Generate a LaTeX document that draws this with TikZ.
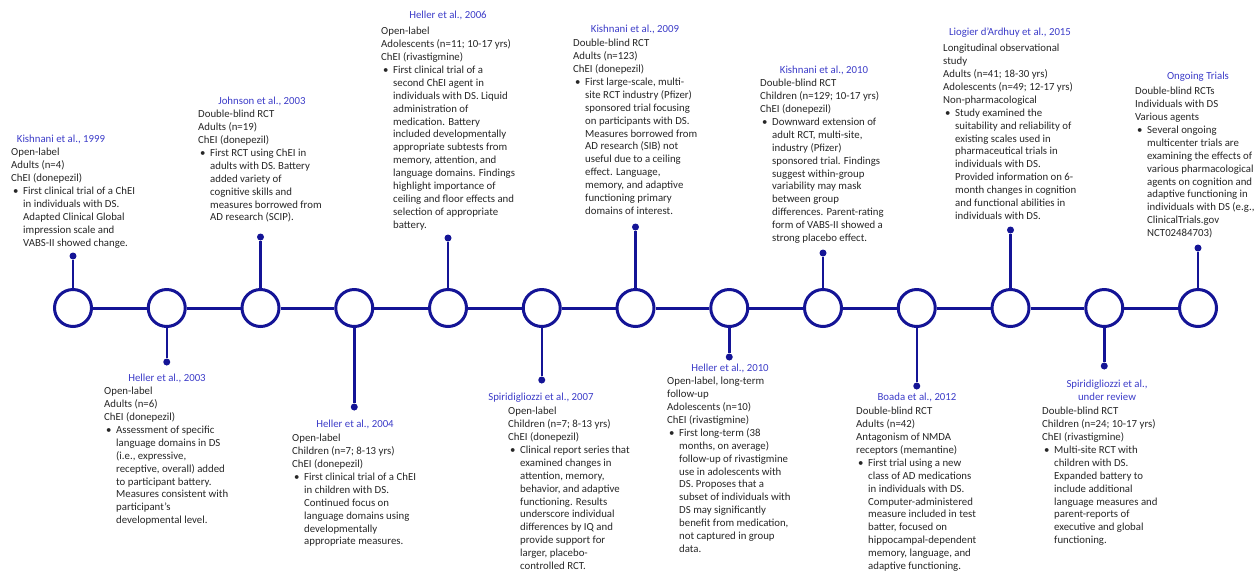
\documentclass[tikz,border=0pt]{standalone}
\usepackage{fontspec}
\setmainfont{Carlito}
\usepackage{tikz}

\definecolor{tlblue}{RGB}{20,20,150}
\definecolor{hdblue}{RGB}{60,60,200}
\newcommand{\bul}{\hspace*{2pt}\makebox[10pt][l]{\textbullet}}
\newcommand{\ind}{\hspace*{12pt}}

\begin{document}
\begin{tikzpicture}[x=1pt,y=-1pt,
    event/.style={circle,draw=tlblue,line width=3pt,fill=white,inner sep=0pt,minimum size=37pt},
    tip/.style={circle,fill=tlblue,inner sep=0pt,minimum size=7pt},
    stem/.style={tlblue,line width=2.5pt},
    hdr/.style={text=hdblue,font=\fontsize{10.8}{12.9}\selectfont,inner sep=0pt,align=center},
    txt/.style={anchor=north west,text=black!85,font=\fontsize{10.8}{12.9}\selectfont,inner sep=0pt,align=left}]
    \useasboundingbox (0,0) rectangle (1257,574);

    % timeline
    \node[event] (c1) at (73, 308) {};
    \node[event] (c2) at (166.75, 308) {};
    \node[event] (c3) at (260.5, 308) {};
    \node[event] (c4) at (354.25, 308) {};
    \node[event] (c5) at (448, 308) {};
    \node[event] (c6) at (541.75, 308) {};
    \node[event] (c7) at (635.5, 308) {};
    \node[event] (c8) at (729.25, 308) {};
    \node[event] (c9) at (823, 308) {};
    \node[event] (c10) at (916.75, 308) {};
    \node[event] (c11) at (1010.5, 308) {};
    \node[event] (c12) at (1104.25, 308) {};
    \node[event] (c13) at (1198, 308) {};

    \draw[tlblue, line width=3pt] (c1) -- (c2) (c2) -- (c3) (c3) -- (c4) (c4) -- (c5)
        (c5) -- (c6) (c6) -- (c7) (c7) -- (c8) (c8) -- (c9) (c9) -- (c10)
        (c10) -- (c11) (c11) -- (c12) (c12) -- (c13);

    % stems
    \node[tip] (p1) at (73, 256) {};
    \node[tip] (p2) at (166.75, 362) {};
    \node[tip] (p3) at (260.5, 237) {};
    \node[tip] (p4) at (354.25, 407) {};
    \node[tip] (p5) at (448, 238) {};
    \node[tip] (p6) at (541.75, 380) {};
    \node[tip] (p7) at (635.5, 227) {};
    \node[tip] (p8) at (729.25, 357) {};
    \node[tip] (p9) at (823, 253) {};
    \node[tip] (p10) at (916.75, 386) {};
    \node[tip] (p11) at (1010.5, 230) {};
    \node[tip] (p12) at (1104.25, 366) {};
    \node[tip] (p13) at (1198, 248) {};

    \draw[stem] (c1) -- (p1) (c2) -- (p2) (c3) -- (p3) (c4) -- (p4) (c5) -- (p5)
        (c6) -- (p6) (c7) -- (p7) (c8) -- (p8) (c9) -- (p9) (c10) -- (p10)
        (c11) -- (p11) (c12) -- (p12) (c13) -- (p13);

    % studies
    \node[hdr] (h1) at (61, 139) {Kishnani et al., 1999};
    \node[txt] (t1) at (11, 148) {Open-label\\Adults (n=4)\\ChEI (donepezil)\\
        \bul First clinical trial of a ChEI\\\ind in individuals with DS.\\
        \ind Adapted Clinical Global\\\ind impression scale and\\\ind VABS-II showed change.};

    \node[hdr] (h2) at (167, 378) {Heller et al., 2003};
    \node[txt] (t2) at (104, 387) {Open-label\\Adults (n=6)\\ChEI (donepezil)\\
        \bul Assessment of specific\\\ind language domains in DS\\\ind (i.e., expressive,\\
        \ind receptive, overall) added\\\ind to participant battery.\\
        \ind Measures consistent with\\\ind participant's\\\ind developmental level.};

    \node[hdr] (h3) at (262, 101) {Johnson et al., 2003};
    \node[txt] (t3) at (198, 110) {Double-blind RCT\\Adults (n=19)\\ChEI (donepezil)\\
        \bul First RCT using ChEI in\\\ind adults with DS. Battery\\\ind added variety of\\
        \ind cognitive skills and\\\ind measures borrowed from\\\ind AD research (SCIP).};

    \node[hdr] (h4) at (355, 424) {Heller et al., 2004};
    \node[txt] (t4) at (292, 434) {Open-label\\Children (n=7; 8-13 yrs)\\ChEI (donepezil)\\
        \bul First clinical trial of a ChEI\\\ind in children with DS.\\\ind Continued focus on\\
        \ind language domains using\\\ind developmentally\\\ind appropriate measures.};

    \node[hdr] (h5) at (448, 15) {Heller et al., 2006};
    \node[txt] (t5) at (381, 27) {Open-label\\Adolescents (n=11; 10-17 yrs)\\ChEI (rivastigmine)\\
        \bul First clinical trial of a\\\ind second ChEI agent in\\\ind individuals with DS. Liquid\\
        \ind administration of\\\ind medication. Battery\\\ind included developmentally\\
        \ind appropriate subtests from\\\ind memory, attention, and\\\ind language domains. Findings\\
        \ind highlight importance of\\\ind ceiling and floor effects and\\\ind selection of appropriate\\
        \ind battery.};

    \node[hdr] (h6) at (541, 398) {Spiridigliozzi et al., 2007};
    \node[txt] (t6) at (508, 407) {Open-label\\Children (n=7; 8-13 yrs)\\ChEI (donepezil)\\
        \bul Clinical report series that\\\ind examined changes in\\\ind attention, memory,\\
        \ind behavior, and adaptive\\\ind functioning. Results\\\ind underscore individual\\
        \ind differences by IQ and\\\ind provide support for\\\ind larger, placebo-\\
        \ind controlled RCT.};

    \node[hdr] (h7) at (635, 29) {Kishnani et al., 2009};
    \node[txt] (t7) at (573, 39) {Double-blind RCT\\Adults (n=123)\\ChEI (donepezil)\\
        \bul First large-scale, multi-\\\ind site RCT industry (Pfizer)\\\ind sponsored trial focusing\\
        \ind on participants with DS.\\\ind Measures borrowed from\\\ind AD research (SIB) not\\
        \ind useful due to a ceiling\\\ind effect. Language,\\\ind memory, and adaptive\\
        \ind functioning primary\\\ind domains of interest.};

    \node[hdr] (h8) at (730, 368) {Heller et al., 2010};
    \node[txt] (t8) at (667, 377) {Open-label, long-term\\follow-up\\Adolescents (n=10)\\ChEI (rivastigmine)\\
        \bul First long-term (38\\\ind months, on average)\\\ind follow-up of rivastigmine\\
        \ind use in adolescents with\\\ind DS. Proposes that a\\\ind subset of individuals with\\
        \ind DS may significantly\\\ind benefit from medication,\\\ind not captured in group\\
        \ind data.};

    \node[hdr] (h9) at (824, 70) {Kishnani et al., 2010};
    \node[txt] (t9) at (760, 79) {Double-blind RCT\\Children (n=129; 10-17 yrs)\\ChEI (donepezil)\\
        \bul Downward extension of\\\ind adult RCT, multi-site,\\\ind industry (Pfizer)\\
        \ind sponsored trial. Findings\\\ind suggest within-group\\\ind variability may mask\\
        \ind between group\\\ind differences. Parent-rating\\\ind form of VABS-II showed a\\
        \ind strong placebo effect.};

    \node[hdr] (h10) at (917, 397) {Boada et al., 2012};
    \node[txt] (t10) at (856, 407) {Double-blind RCT\\Adults (n=42)\\Antagonism of NMDA\\receptors (memantine)\\
        \bul First trial using a new\\\ind class of AD medications\\\ind in individuals with DS.\\
        \ind Computer-administered\\\ind measure included in test\\\ind batter, focused on\\
        \ind hippocampal-dependent\\\ind memory, language, and\\\ind adaptive functioning.};

    \node[hdr] (h11) at (1010, 33) {Liogier d'Ardhuy et al., 2015};
    \node[txt] (t11) at (943, 44) {Longitudinal observational\\study\\Adults (n=41; 18-30 yrs)\\
        Adolescents (n=49; 12-17 yrs)\\Non-pharmacological\\
        \bul Study examined the\\\ind suitability and reliability of\\\ind existing scales used in\\
        \ind pharmaceutical trials in\\\ind individuals with DS.\\\ind Provided information on 6-\\
        \ind month changes in cognition\\\ind and functional abilities in\\\ind individuals with DS.};

    \node[hdr] (h12) at (1107, 390) {Spiridigliozzi et al.,\\under review};
    \node[txt] (t12) at (1042, 407) {Double-blind RCT\\Children (n=24; 10-17 yrs)\\ChEI (rivastigmine)\\
        \bul Multi-site RCT with\\\ind children with DS.\\\ind Expanded battery to\\
        \ind include additional\\\ind language measures and\\\ind parent-reports of\\
        \ind executive and global\\\ind functioning.};

    \node[hdr] (h13) at (1198, 77) {Ongoing Trials};
    \node[txt] (t13) at (1135, 87) {Double-blind RCTs\\Individuals with DS\\Various agents\\
        \bul Several ongoing\\\ind multicenter trials are\\\ind examining the effects of\\
        \ind various pharmacological\\\ind agents on cognition and\\\ind adaptive functioning in\\
        \ind individuals with DS (e.g.,\\\ind ClinicalTrials.gov\\\ind NCT02484703)};
\end{tikzpicture}
\end{document}
